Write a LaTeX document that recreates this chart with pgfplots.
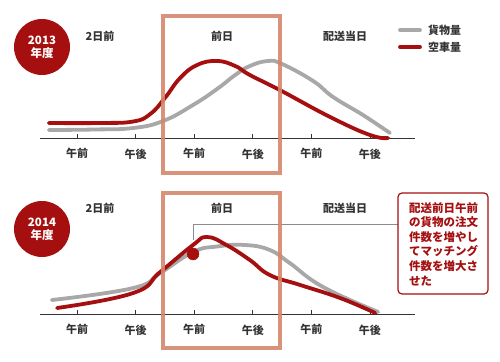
\documentclass[border=0pt]{standalone}
\usepackage{fontspec}
\setmainfont{Noto Sans CJK JP}
\usepackage{pgfplots}
\pgfplotsset{compat=1.18}
\definecolor{cred}{RGB}{165,15,15}
\definecolor{cgray}{RGB}{168,168,168}
\definecolor{cbox}{RGB}{213,135,108}
\definecolor{ctext}{RGB}{51,51,51}
\pgfplotsset{
  panel/.style={
    scale only axis, width=375pt, height=100pt,
    xmin=-0.63, xmax=5.77, ymin=0, ymax=100, clip=false,
    axis y line=none, axis x line*=bottom,
    x axis line style={ctext, line width=0.8pt},
    xtick={0,...,5},
    xticklabels={午前,午後,午前,午後,午前,午後},
    xtick align=inside, major tick length=4pt,
    major tick style={ctext, line width=0.6pt},
    xticklabel style={font=\fontsize{11}{11}\selectfont\bfseries, text=ctext, yshift=-7pt},
  },
  curve/.style={line width=3.8pt, smooth, tension=0.75, line cap=round},
}
\begin{document}
\begin{tikzpicture}[x=1pt,y=-1pt]
\path[use as bounding box] (0,0) rectangle (500,361);
% annotation connector
\draw[black!45, line width=0.6pt] (193,240) -- (193,224) -- (398,224);
% top panel
\begin{axis}[panel, at={(77pt,-138pt)}, anchor=origin]
\addplot[curve, cgray] coordinates {(-0.48,8) (0.3,8.5) (0.96,10) (1.47,17) (1.98,33) (2.39,49) (2.70,63) (2.95,72) (3.26,77) (3.5,74) (4.03,57) (4.37,41) (4.88,23) (5.34,5)};
\addplot[curve, cred] coordinates {(-0.48,15) (0.39,15) (0.96,16.5) (1.25,24) (1.5,40) (1.76,60) (2.05,73) (2.39,77) (2.7,72) (2.95,63) (3.46,48) (4.32,21) (5.0,3) (5.31,0)};
\end{axis}
% bottom panel
\begin{axis}[panel, at={(77pt,-314pt)}, anchor=origin]
\addplot[curve, cgray] coordinates {(-0.43,14) (0.96,26) (1.42,41) (1.98,62) (2.39,67.5) (2.87,69) (3.29,64) (3.63,51) (4.20,27) (5.14,2)};
\addplot[curve, cred] coordinates {(-0.34,6) (0.96,21) (1.42,42) (1.98,69) (2.22,77) (2.55,69) (2.95,54) (3.29,39) (3.81,29) (4.49,16) (5.09,1)};
\addplot[only marks, mark=*, mark size=6pt, mark options={fill=cred, draw=cred}] coordinates {(1.98,60)};
\end{axis}
% highlight boxes
\draw[cbox, line width=4pt, opacity=0.9] (163,16) rectangle (280,173);
\draw[cbox, line width=4pt, opacity=0.9] (163,193) rectangle (280,348);
% circles
\fill[cred] (42,47) circle (28);
\node[text=white, align=center, font=\fontsize{11.5}{13}\selectfont\bfseries] at (42,47) {2013\\年度};
\fill[cred] (42,229) circle (28);
\node[text=white, align=center, font=\fontsize{11.5}{13}\selectfont\bfseries] at (42,229) {2014\\年度};
% period labels
\begin{scope}[every node/.style={text=ctext, font=\fontsize{11}{11}\selectfont\bfseries}]
\node at (100,36) {2日前};
\node at (222,36) {前日};
\node at (345,36) {配送当日};
\node at (100,208) {2日前};
\node at (222,208) {前日};
\node at (345,208) {配送当日};
\end{scope}
% legend
\draw[cgray, line width=3.8pt, line cap=round] (400,30) -- (420,30);
\draw[cred, line width=3.8pt, line cap=round] (400,47) -- (420,47);
\node[anchor=west, text=ctext, font=\fontsize{11}{11}\selectfont\bfseries, inner sep=0] at (428,30) {貨物量};
\node[anchor=west, text=ctext, font=\fontsize{11}{11}\selectfont\bfseries, inner sep=0] at (428,47) {空車量};
% annotation box
\draw[cred, line width=1.2pt, rounded corners=4pt, fill=white] (398,193) rectangle (488,294);
\node[anchor=north west, align=left, text=cred, inner sep=0, font=\fontsize{11.5}{14.6}\selectfont\bfseries] at (409,202) {配送前日午前\\の貨物の注文\\件数を増やし\\てマッチング\\件数を増大さ\\せた};
\end{tikzpicture}
\end{document}
